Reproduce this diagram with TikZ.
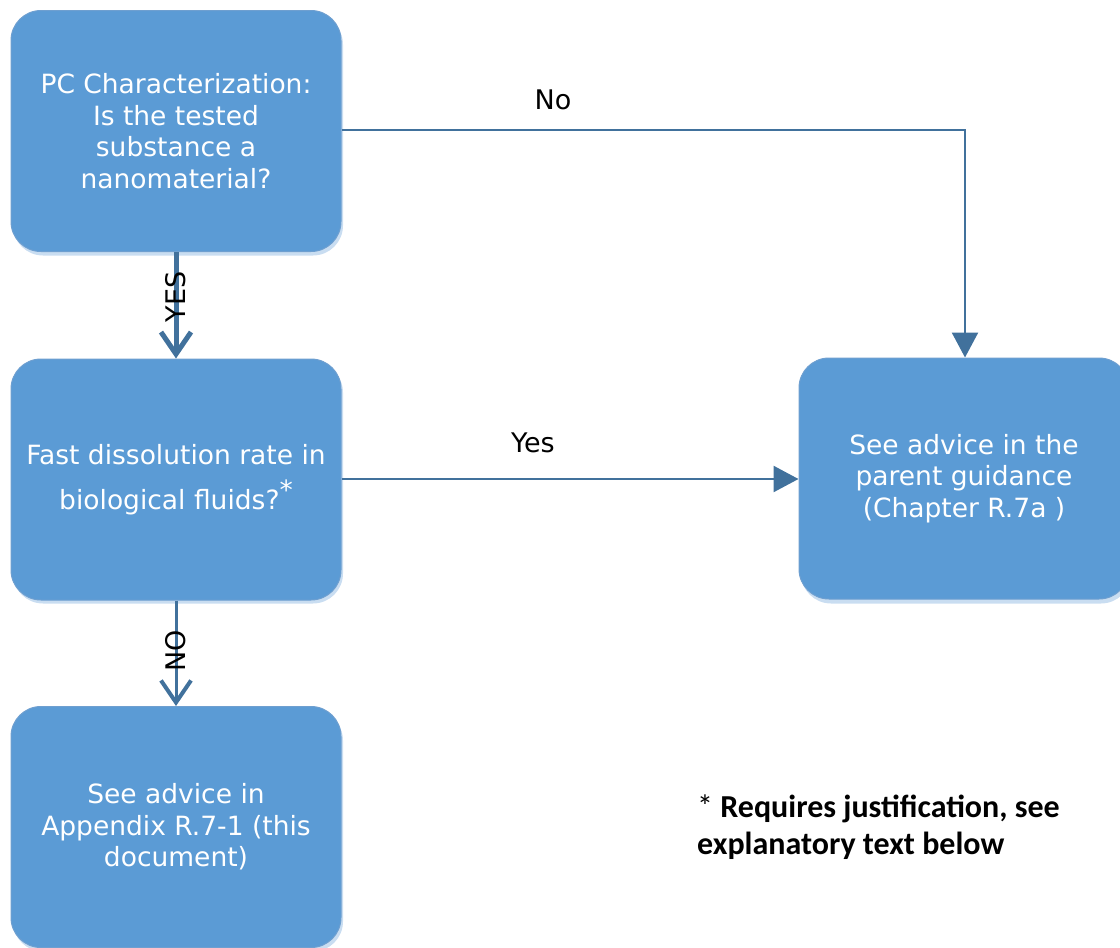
\documentclass[tikz,border=0pt]{standalone}
\usepackage{fontspec}
\setmainfont{DejaVu Sans}
\newfontfamily\notefont{Carlito}
\usetikzlibrary{arrows.meta}
\definecolor{boxfill}{HTML}{5B9BD5}
\definecolor{boxline}{HTML}{6E9FD0}
\definecolor{shad}{HTML}{C9DDF1}
\definecolor{conn}{HTML}{41719C}
\tikzset{
  x=1pt,y=-1pt,
  flowbox/.style={draw=boxline, line width=1pt, fill=boxfill, rounded corners=30pt,
    minimum width=330pt, minimum height=241pt, text=white, align=center,
    font=\fontsize{26.5}{31.5}\selectfont, inner sep=0pt},
  shadowbox/.style={fill=shad, rounded corners=30pt, minimum width=330pt, minimum height=241pt, draw=none},
  conn/.style={draw=conn, line width=2.5pt},
  lbl/.style={font=\fontsize{27}{30}\selectfont, text=black, inner sep=0pt}
}
\begin{document}
\begin{tikzpicture}
\useasboundingbox (0,0) rectangle (1120,948);
% shadows
\node[shadowbox] at (178,135) {};
\node[shadowbox] at (178,483) {};
\node[shadowbox] at (178,831) {};
\node[shadowbox] at (966,483) {};
% boxes
\node[flowbox] (q1) at (176,131) {PC Characterization:\\Is the tested\\substance a\\nanomaterial?};
\node[flowbox, font=\fontsize{26.5}{45}\selectfont] (q2) at (176,479.5) {Fast dissolution rate in\\biological fluids?\raisebox{10pt}{*}};
\node[flowbox] (r3) at (176,827) {See advice in\\Appendix R.7-1 (this\\document)};
\node[flowbox] (r4) at (964,478.5) {See advice in the\\parent guidance\\(Chapter R.7a )};
% connectors
\coordinate (corner) at (965,130);
\draw[conn, -{Triangle[length=25pt,width=26pt]}] (q1.east |- 0,130) -- (corner) -- (corner |- r4.north);
\node[lbl] at (553,100) {No};
\draw[conn, -{Triangle[length=25pt,width=26pt]}] (q2.east |- 0,479) -- (r4.west |- 0,479);
\node[lbl] at (533,443) {Yes};
\draw[conn, line width=5pt, -{Straight Barb[length=22pt,width=30pt,line width=5pt]}] (q1.south) -- (q2.north);
\node[lbl, rotate=90] at (176,297) {YES};
\draw[conn, line width=3pt, -{Straight Barb[length=22pt,width=30pt,line width=4pt]}] (q2.south) -- (r3.north);
\node[lbl, rotate=90] at (176,651) {NO};
% note
\node[anchor=west, align=left, inner sep=0pt, font=\notefont\fontsize{32}{37}\selectfont] (note) at (697,827)
  {* \textbf{Requires justification, see}\\\textbf{explanatory text below}};
\end{tikzpicture}
\end{document}
